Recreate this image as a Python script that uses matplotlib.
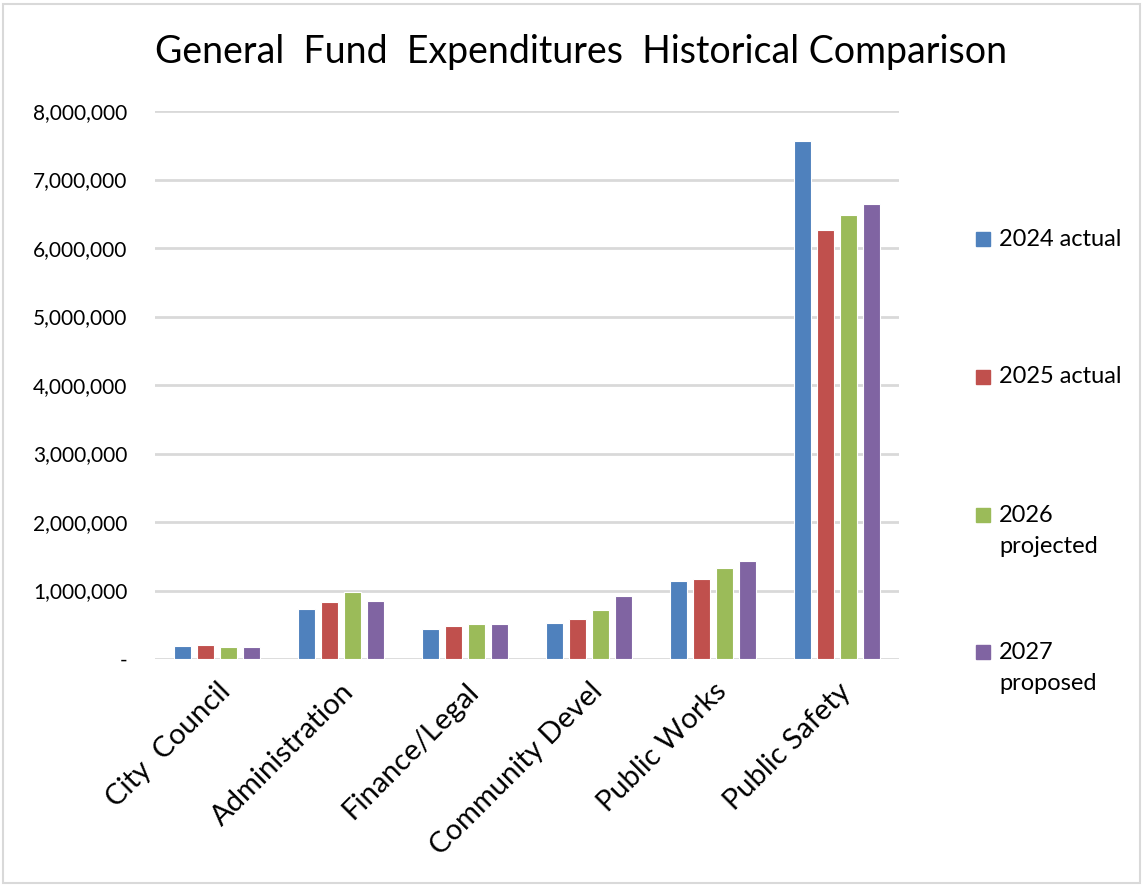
"""General fund expenditures, grouped bar chart."""

import numpy as np
import matplotlib
matplotlib.use("Agg")
from matplotlib import pyplot as plt
from matplotlib.patches import Rectangle
from matplotlib.ticker import FuncFormatter

plt.rcParams['font.family'] = ['Lato', 'DejaVu Sans']

departments = ['City  Council', 'Administration', 'Finance/Legal',
               'Community Devel', 'Public Works', 'Public Safety']
series_labels = ['2024 actual', '2025 actual', '2026\nprojected', '2027\nproposed']
series_colors = ['#4F81BD', '#C0504D', '#9BBB59', '#8064A2']

actual_2024 = [185000, 735000, 445000, 527000, 1146000, 7560000]
actual_2025 = [200000, 830000, 478000, 586000, 1170000, 6270000]
projected_2026 = [180000, 975000, 517000, 717000, 1332000, 6475000]
proposed_2027 = [180000, 850000, 517000, 922000, 1430000, 6645000]

series = [actual_2024, actual_2025, projected_2026, proposed_2027]


def fmt_thousands(v, pos):
    if v == 0:
        return '-'
    return f'{v:,.0f}'


fig = plt.figure(figsize=(11.43, 8.86), dpi=100)
ax = fig.add_axes([0.1356, 0.2562, 0.651, 0.6185])

x = np.arange(len(departments))
width = 0.14
step = 0.185
for i, (vals, lab, col) in enumerate(zip(series, series_labels, series_colors)):
    offset = (i - 1.5) * step
    ax.bar(x + offset, vals, width, color=col, label=lab,
           edgecolor='white', linewidth=0.8, zorder=3)

ax.set_xlim(-0.5, len(departments) - 0.5)
ax.set_ylim(0, 8000000)
ax.set_yticks(np.arange(0, 8000001, 1000000))
ax.yaxis.set_major_formatter(FuncFormatter(fmt_thousands))
ax.grid(axis='y', color='#d9d9d9', linewidth=2, zorder=0)
for s in ax.spines.values():
    s.set_visible(False)
ax.tick_params(axis='both', length=0)
ax.tick_params(axis='y', labelsize=15, pad=20)
ax.set_xticks(x)
ax.set_xticklabels(departments, rotation=45, ha='right',
                   rotation_mode='anchor', fontsize=21)
ax.tick_params(axis='x', pad=14)

fig.suptitle('General  Fund  Expenditures  Historical Comparison',
             x=0.508, y=0.962, fontsize=27)

# legend drawn by hand so the swatch sits on the first line, as in Excel
leg_y = [0.7302, 0.5745, 0.4187, 0.2641]
line_gap = 0.036
for lab, col, yy in zip(series_labels, series_colors, leg_y):
    fig.patches.append(Rectangle((0.854, yy - 0.0079), 0.0123, 0.0158,
                                 transform=fig.transFigure, color=col))
    for k, line in enumerate(lab.split('\n')):
        fig.text(0.874, yy - k * line_gap, line, fontsize=17,
                 va='center', ha='left')

fig.patches.append(Rectangle((0.003, 0.003), 0.994, 0.992, transform=fig.transFigure,
                             fill=False, edgecolor='#d9d9d9', linewidth=1.5))

plt.savefig('out.png', dpi=100)
